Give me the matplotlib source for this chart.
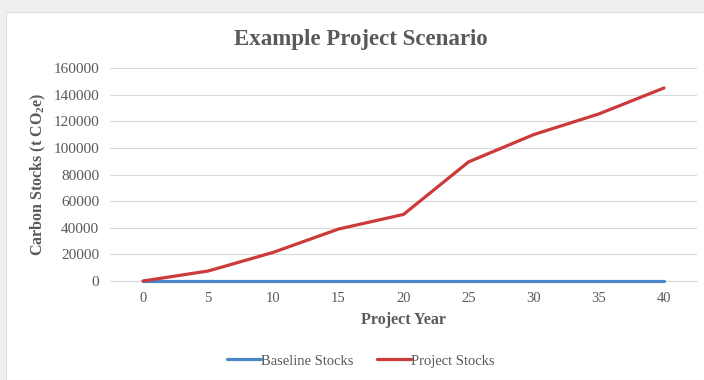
import matplotlib.pyplot as plt
from matplotlib.patches import Rectangle

# Carbon stock scenario data
years = [0, 5, 10, 15, 20, 25, 30, 35, 40]
baseline_stocks = [0, 0, 0, 0, 0, 0, 0, 0, 0]
project_stocks = [0, 7500, 21500, 39000, 50000, 89500, 110000, 125500, 145000]

plt.rcParams['font.family'] = ['Liberation Serif', 'DejaVu Serif']
plt.rcParams['mathtext.default'] = 'regular'
text_color = '#595959'

fig = plt.figure(figsize=(7.04, 3.80), dpi=100)
fig.patch.set_facecolor('#eef0ee')
# white chart card
fig.patches.append(Rectangle((6 / 704, 0), 1, 1 - 12 / 380, transform=fig.transFigure,
                             facecolor='white', edgecolor='#dddddd', linewidth=0.8, zorder=-1))

ax = fig.add_axes([110.4 / 704, 1 - 281 / 380, 586.2 / 704, 213 / 380])
ax.set_facecolor('none')

ax.plot(years, baseline_stocks, color='#4a87c8', linewidth=2.3, label='Baseline Stocks',
        solid_capstyle='round', zorder=3, clip_on=False)
ax.plot(years, project_stocks, color='#cc3a3a', linewidth=2.3, label='Project Stocks',
        solid_capstyle='round', zorder=4, clip_on=False)

ax.set_xlim(-2.5, 42.5)
ax.set_ylim(0, 160000)
ax.set_xticks(years)
ax.set_yticks(range(0, 160001, 20000))
ax.grid(axis='y', color='#d9d9d9', linewidth=0.8)
ax.set_axisbelow(True)
for side in ['top', 'right', 'left']:
    ax.spines[side].set_visible(False)
ax.spines['bottom'].set_color('#d9d9d9')
ax.tick_params(length=0, labelsize=10.5, labelcolor=text_color, pad=8)
ax.tick_params(axis='y', labelsize=11, pad=8)

ax.set_xlabel('Project Year', fontsize=11.5, fontweight='bold', color=text_color, labelpad=5)
ax.set_ylabel('Carbon Stocks (t CO$_2$e)', fontsize=11.5, fontweight='bold',
              color=text_color, labelpad=4)

fig.text(361 / 704, 1 - 39 / 380, 'Example Project Scenario', ha='center', va='center',
         fontsize=16.5, fontweight='bold', color=text_color)

leg = fig.legend(loc='center', bbox_to_anchor=(361 / 704, 1 - 361 / 380), ncol=2,
                 frameon=False, fontsize=10.5, handlelength=2.3, handletextpad=0.05,
                 columnspacing=1.6)
for t in leg.get_texts():
    t.set_color(text_color)

fig.savefig('out.png', dpi=100, facecolor=fig.get_facecolor())
